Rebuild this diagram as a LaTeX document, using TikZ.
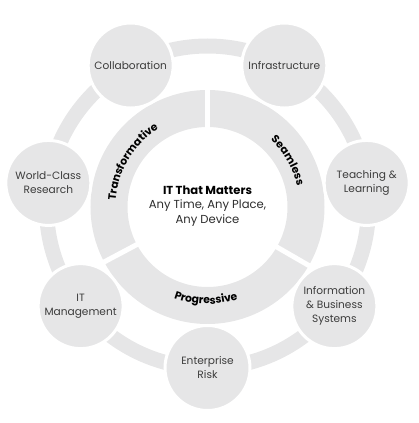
\documentclass[tikz,border=0pt]{standalone}
\usepackage{fontspec}
\setmainfont{Poppins}
\usetikzlibrary{decorations.text}
\definecolor{ringgray}{RGB}{230,230,231}
\definecolor{txtgray}{RGB}{60,60,60}
\definecolor{subgray}{RGB}{45,45,45}
\begin{document}
\begin{tikzpicture}[x=1pt,y=1pt,
  topic/.style={circle, fill=ringgray, draw=white, line width=3pt, minimum size=85pt,
    inner sep=0pt, align=center, text=txtgray, font=\fontsize{10.6}{14}\selectfont},
  ringlabel/.style={decorate, decoration={text along path, text align=center,
    text={|\bfseries\fontsize{10.8}{12}\selectfont|#1}}},
  gapline/.style={white, line width=5pt}
]
\useasboundingbox (-207.5,-216) rectangle (210.5,207);
% outer connecting band
\draw[ringgray, line width=15pt] (0,0) circle[radius=161];
% inner ring
\fill[ringgray, even odd rule] (0,0) circle[radius=117] (0,0) circle[radius=80];
\foreach \a in {90,208,330} \draw[gapline] (\a:76) -- (\a:121);
% ring labels
\path[ringlabel=Transformative] (208:92) arc[start angle=208, end angle=90, radius=92];
\path[ringlabel=Seamless] (90:92) arc[start angle=90, end angle=-30, radius=92];
\path[ringlabel=Progressive] (208:97) arc[start angle=208, end angle=330, radius=97];
% centre text
\node[align=center, text=subgray, font=\fontsize{11.6}{14.5}\selectfont] (core) at (0,1)
  {{\bfseries\fontsize{11.6}{14.5}\selectfont\color{black}IT That Matters}\\Any Time, Any Place,\\Any Device};
% topic circles
\node[topic] (collab) at (118.5:161) {Collaboration};
\node[topic] (infra) at (61.5:161) {Infrastructure};
\node[topic] (teach) at (8.6:161) {Teaching \&\\Learning};
\node[topic] (info) at (-38:161) {Information\\\& Business\\Systems};
\node[topic] (risk) at (-90:161) {Enterprise\\Risk};
\node[topic] (itm) at (218:161) {IT\\Management};
\node[topic] (world) at (171.4:161) {World-Class\\Research};
\end{tikzpicture}
\end{document}
